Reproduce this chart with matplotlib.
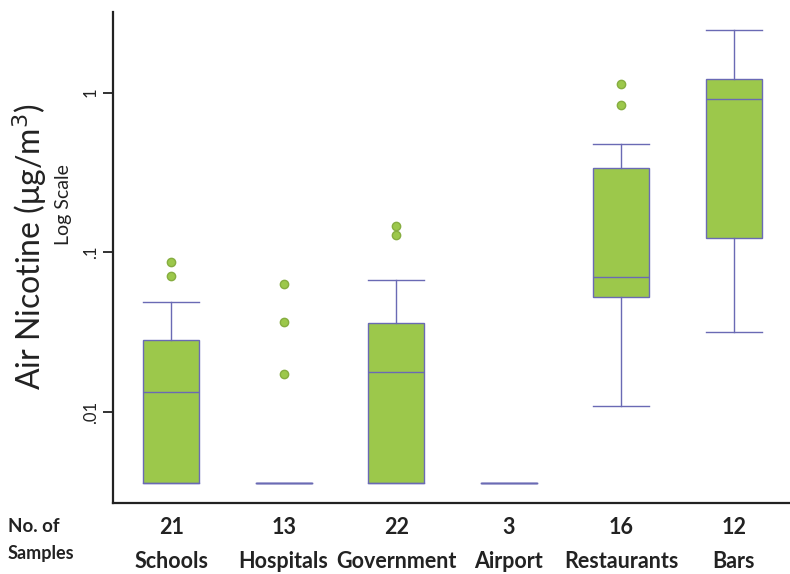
import matplotlib
matplotlib.use('Agg')
import matplotlib.pyplot as plt

plt.rcParams['font.family'] = ['Lato', 'DejaVu Sans']

sites = ['Schools', 'Hospitals', 'Government', 'Airport', 'Restaurants', 'Bars']
n_samples = [21, 13, 22, 3, 16, 12]

# box stats (ug/m3)
whislo = [0.0036, 0.0036, 0.0036, 0.0036, 0.0109, 0.0316]
q1 = [0.0036, 0.0036, 0.0036, 0.0036, 0.0524, 0.123]
med = [0.0133, 0.0036, 0.0178, 0.0036, 0.070, 0.91]
q3 = [0.0282, 0.0036, 0.0361, 0.0036, 0.337, 1.21]
whishi = [0.0488, 0.0036, 0.0670, 0.0036, 0.476, 2.46]
fliers = [[0.0869, 0.0710],
          [0.0632, 0.0366, 0.0173],
          [0.146, 0.128],
          [],
          [1.13, 0.835],
          []]

green = '#9cc84b'
blue = '#6a6ab4'
ink = '#222222'

stats = []
for i in range(len(sites)):
    stats.append({'label': sites[i], 'whislo': whislo[i], 'q1': q1[i], 'med': med[i],
                  'q3': q3[i], 'whishi': whishi[i], 'fliers': fliers[i]})

fig = plt.figure(figsize=(7.9, 5.74), dpi=100)
ax = fig.add_axes([0.143, 0.1237, 0.857, 0.855])

ax.bxp(stats, positions=range(1, 7), widths=0.5, patch_artist=True,
       boxprops=dict(facecolor=green, edgecolor=blue, linewidth=1.0),
       medianprops=dict(color=blue, linewidth=1.0),
       whiskerprops=dict(color=blue, linewidth=1.0),
       capprops=dict(color=blue, linewidth=1.0),
       flierprops=dict(marker='o', markerfacecolor=green, markeredgecolor='#86ad40',
                       markersize=6, linestyle='none'),
       capwidths=0.5)

ax.set_yscale('log')
ax.set_ylim(0.00269, 3.19)
ax.set_xlim(0.483, 6.5)
ax.set_yticks([0.01, 0.1, 1])
ax.set_yticks([], minor=True)
ax.set_yticklabels(['.01', '.1', '1'], rotation=90, va='center', fontsize=12, color=ink)
ax.tick_params(axis='y', length=7, width=1.3, color=ink, pad=3)
ax.set_xticks([])
for s in ['top', 'right']:
    ax.spines[s].set_visible(False)
for s in ['left', 'bottom']:
    ax.spines[s].set_linewidth(1.6)
    ax.spines[s].set_color(ink)

for i, name in enumerate(sites):
    ax.text(i + 1, -0.049, str(n_samples[i]), transform=ax.get_xaxis_transform(),
            ha='center', va='center', fontsize=15.5, fontweight='bold', color=ink)
    ax.text(i + 1, -0.120, name, transform=ax.get_xaxis_transform(),
            ha='center', va='center', fontsize=15.5, fontweight='bold', color=ink)

fig.text(0.010, 1 - 527 / 574, 'No. of', ha='left', va='center', fontsize=13.5,
         fontweight='bold', color=ink)
fig.text(0.010, 1 - 553 / 574, 'Samples', ha='left', va='center', fontsize=13,
         fontweight='bold', color=ink)

fig.text(30 / 790, 1 - 247 / 574, 'Air Nicotine (μg/m$^3$)', rotation=90, ha='center',
         va='center', fontsize=23, color=ink)
fig.text(64 / 790, 1 - 205 / 574, 'Log Scale', rotation=90, ha='center', va='center',
         fontsize=14, color=ink)

fig.savefig('out.png', dpi=100)
